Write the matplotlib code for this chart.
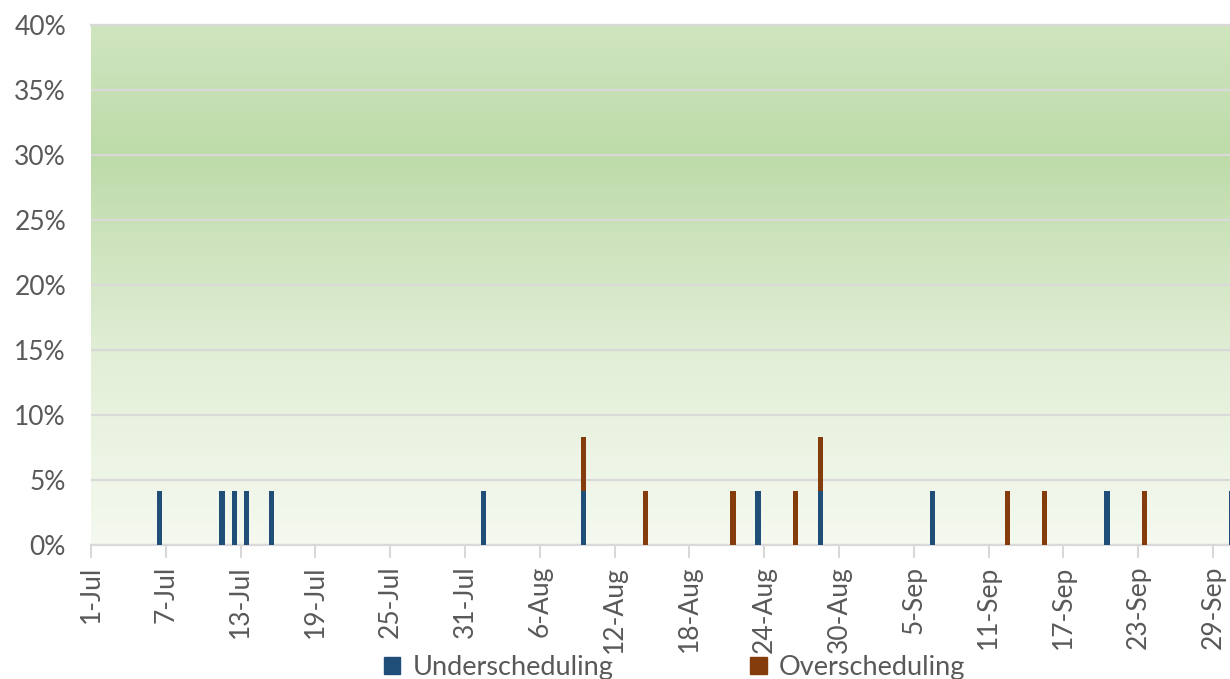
import numpy as np
import matplotlib.pyplot as plt
import matplotlib.dates as mdates
from matplotlib.patches import Patch
from matplotlib.colors import LinearSegmentedColormap
from matplotlib.ticker import PercentFormatter, MultipleLocator
import datetime as dt

plt.rcParams['font.family'] = ['Lato', 'DejaVu Sans']

# daily share of slots mis-scheduled (1 of 24 = 4.17%)
days = ['2019-07-06', '2019-07-11', '2019-07-12', '2019-07-13', '2019-07-15',
        '2019-08-01', '2019-08-09', '2019-08-14', '2019-08-21', '2019-08-23',
        '2019-08-26', '2019-08-28', '2019-09-06', '2019-09-12', '2019-09-15',
        '2019-09-20', '2019-09-23', '2019-09-30']
under = [4.17, 4.17, 4.17, 4.17, 4.17,
         4.17, 4.17, 0, 0, 4.17,
         0, 4.17, 4.17, 0, 0,
         4.17, 0, 4.17]
over = [0, 0, 0, 0, 0,
        0, 4.17, 4.17, 4.17, 0,
        4.17, 4.17, 0, 4.17, 4.17,
        0, 4.17, 0]

start = dt.date(2019, 7, 1)
n_days = 92
tick_step = 6

blue = '#1f4e79'
brown = '#843c0c'
grey_txt = '#595959'
grid_col = '#d9d9d9'

d = [dt.date.fromisoformat(s) for s in days]
x = mdates.date2num(d) + 0.5
u = np.array(under) / 100
o = np.array(over) / 100

fig = plt.figure(figsize=(12.3, 6.79), dpi=100)
ax = fig.add_axes([91 / 1230, 134 / 679, 1147 / 1230, 520 / 679])

# green fade behind the plot
bg = LinearSegmentedColormap.from_list(
    'bg', [(0.0, '#f5f9f0'), (0.35, '#e3efd8'), (0.75, '#bddba9'), (1.0, '#cfe5bf')])
ax.imshow(np.linspace(0, 1, 256).reshape(-1, 1), cmap=bg, origin='lower',
          extent=[0, 1, 0, 1], transform=ax.transAxes, aspect='auto', zorder=0)

w = 0.42
ax.bar(x, u, width=w, color=blue, zorder=3, label='Underscheduling')
ax.bar(x, o, width=w, bottom=u, color=brown, zorder=3, label='Overscheduling')

x0 = mdates.date2num(start)
ax.set_xlim(x0, x0 + n_days)
ax.set_ylim(0, 0.40)

ticks = [start + dt.timedelta(days=k) for k in range(0, 91, tick_step)]
ax.set_xticks(mdates.date2num(ticks))
ax.set_xticklabels([f"{t.day}-{t.strftime('%b')}" for t in ticks], rotation=90,
                   fontsize=19, color=grey_txt)
ax.yaxis.set_major_locator(MultipleLocator(0.05))
ax.yaxis.set_major_formatter(PercentFormatter(1.0, decimals=0))
ax.tick_params(axis='y', length=0, labelsize=19, labelcolor=grey_txt, pad=18)
ax.tick_params(axis='x', length=9, width=1.5, color=grid_col, pad=6)

ax.grid(axis='y', color=grid_col, lw=1.6, zorder=1)
ax.set_axisbelow(True)
for s in ['left', 'right', 'top']:
    ax.spines[s].set_visible(False)
ax.spines['bottom'].set_color(grid_col)
ax.spines['bottom'].set_linewidth(1.6)
ax.axhline(0.40, color=grid_col, lw=1.6, zorder=1, clip_on=False)

handles = [Patch(color=blue), Patch(color=brown)]
fig.legend(handles, ['Underscheduling', 'Overscheduling'], loc='center',
           bbox_to_anchor=(0.5485, 0.017), ncol=2, frameon=False, fontsize=19.5,
           labelcolor=grey_txt, handlelength=0.6, handleheight=0.6,
           handletextpad=0.45, columnspacing=5.05)

fig.savefig('out.png', dpi=100)
